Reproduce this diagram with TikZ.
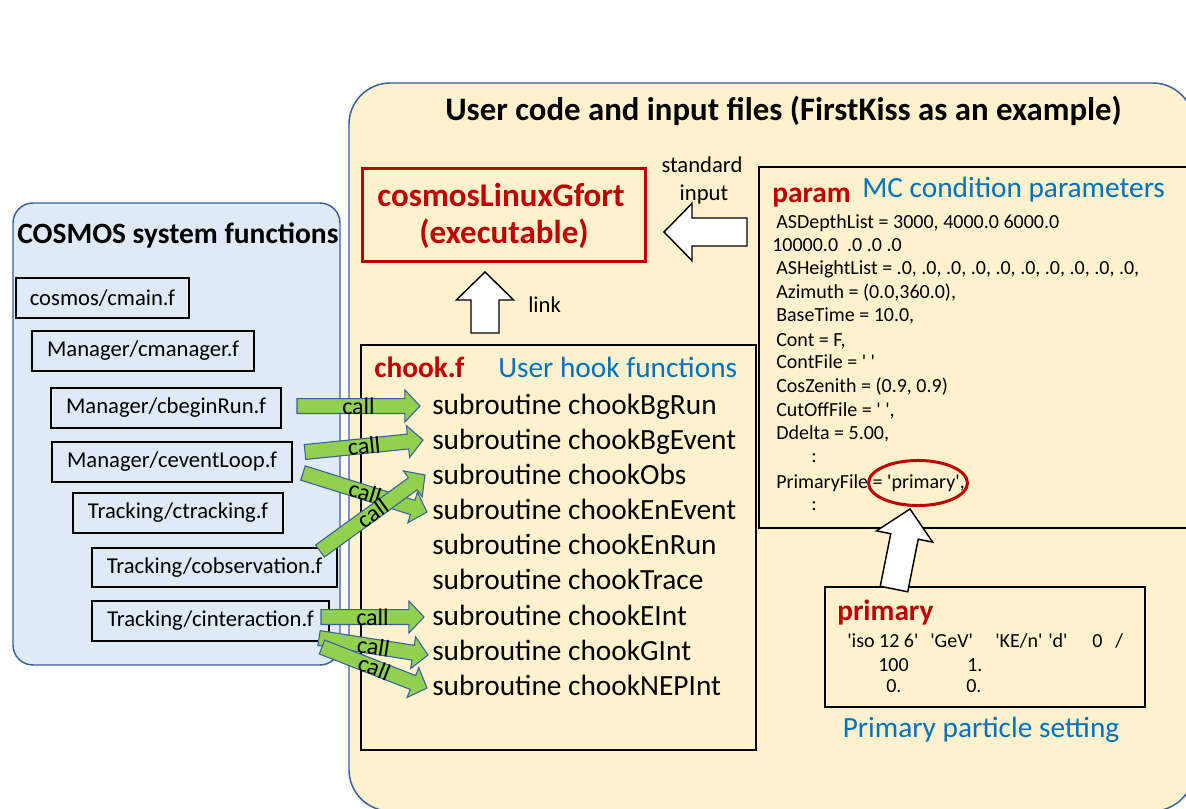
\documentclass[tikz,border=0pt]{standalone}
\usepackage{fontspec}
\setmainfont{Carlito}
\usetikzlibrary{calc,fit}
\definecolor{ybg}{HTML}{FFF2CC}
\definecolor{bbg}{HTML}{DEEBF7}
\definecolor{bord}{HTML}{3A5FA0}
\definecolor{dred}{HTML}{C00000}
\definecolor{tblue}{HTML}{0070C0}
\definecolor{agreen}{HTML}{92D050}
\newcommand\q{\textquotesingle}
% #1 style, #2 tail, #3 tip, #4 shaft half width, #5 head half width, #6 head length
\newcommand\blockarr[6]{%
  \coordinate (fahd) at ($(#3)!#6!(#2)$);
  \draw[#1] ($(#2)!#4!90:(#3)$) -- ($(fahd)!#4!-90:(#2)$) -- ($(fahd)!#5!-90:(#2)$)
    -- (#3) -- ($(fahd)!#5!90:(#2)$) -- ($(fahd)!#4!90:(#2)$) -- ($(#2)!#4!-90:(#3)$) -- cycle;
}
\newcommand\callarr[2]{%
  \blockarr{greenarr}{#1}{#2}{5.6pt}{12pt}{11.3pt}
  \path (#1) -- (#2) node[midway, sloped, callst] {call};
}
\newcommand\sysbox[4]{%
  \node[lbox, fit={#2 #3}] (#1) {};
  \node[inner sep=0, font=\fontsize{17}{20}\selectfont] (#1-t) at (#1.center) {#4};
}
\begin{document}
\begin{tikzpicture}[x=0.75pt,y=-0.75pt,
  lbox/.style={draw=black, line width=1.1pt, inner sep=0},
  tx/.style={inner sep=0, anchor=base west},
  f22/.style={font=\fontsize{22}{26}\selectfont},
  f22b/.style={font=\fontsize{22}{26}\selectfont\bfseries},
  f15/.style={font=\fontsize{15}{18}\selectfont},
  f17/.style={font=\fontsize{17}{20}\selectfont},
  greenarr/.style={fill=agreen, draw=bord, line width=0.8pt, line join=miter},
  whitearr/.style={fill=white, draw=black, line width=1.1pt, line join=miter},
  callst/.style={inner sep=0, font=\fontsize{18}{20}\selectfont},
]
\useasboundingbox (0,0) rectangle (1186,808);
\clip (0,0) rectangle (1186,808);

% containers
\node[fit={(349,83) (1194,811)}, inner sep=0, draw=bord, fill=ybg, line width=1.1pt, rounded corners=31pt] (user) {};
\node[fit={(13,203) (340,665)}, inner sep=0, draw=bord, fill=bbg, line width=1.1pt, rounded corners=15pt] (sys) {};

\node[tx, font=\fontsize{24.6}{28}\selectfont\bfseries] (utitle) at (445,120) {User code and input files (FirstKiss as an example)};
\node[tx, font=\fontsize{22.1}{26}\selectfont\bfseries] (stitle) at (17,243) {COSMOS system functions};

% system function boxes
\sysbox{cmain}{(16,278)}{(189,318)}{cosmos/cmain.f}
\sysbox{cmanager}{(32,331)}{(254,371)}{Manager/cmanager.f}
\sysbox{cbeginrun}{(51,388)}{(281,428)}{Manager/cbeginRun.f}
\sysbox{ceventloop}{(52,442)}{(292,482)}{Manager/ceventLoop.f}
\sysbox{ctracking}{(73,493)}{(283,533)}{Tracking/ctracking.f}
\sysbox{cobservation}{(92,548)}{(337,587)}{Tracking/cobservation.f}
\sysbox{cinteraction}{(92,601)}{(329,641)}{Tracking/cinteraction.f}

% executable
\node[fit={(362,168) (645,261)}, inner sep=0, draw=dred, line width=2.25pt] (exe) {};
\node[inner sep=0, anchor=base, text=dred, font=\fontsize{24.8}{28.5}\selectfont\bfseries] (exe1) at (501,206) {cosmosLinuxGfort};
\node[inner sep=0, anchor=base, text=dred, font=\fontsize{24.8}{28.5}\selectfont\bfseries] (exe2) at (504,243) {(executable)};
\node[inner sep=0, anchor=base, f17] (std) at (702,172) {standard};
\node[inner sep=0, anchor=base, f17] (inp) at (704,200) {input};
\node[tx, f17] (link) at (528,312) {link};

% chook box
\node[fit={(361,345) (756,750)}, inner sep=0, draw=black, line width=1.1pt] (chook) {};
\node[tx, f22b, text=dred] (chookt) at (374,377) {chook.f};
\node[tx, f22, text=tblue] (chookd) at (498,377) {User hook functions};
\node[tx, f22] (s1) at (432,414) {subroutine chookBgRun};
\node[tx, f22] (s2) at (432,449) {subroutine chookBgEvent};
\node[tx, f22] (s3) at (432,484) {subroutine chookObs};
\node[tx, f22] (s4) at (432,519) {subroutine chookEnEvent};
\node[tx, f22] (s5) at (432,554) {subroutine chookEnRun};
\node[tx, f22] (s6) at (432,589) {subroutine chookTrace};
\node[tx, f22] (s7) at (432,625) {subroutine chookEInt};
\node[tx, f22] (s8) at (432,660) {subroutine chookGInt};
\node[tx, f22] (s9) at (432,695) {subroutine chookNEPInt};

% param box
\node[fit={(759,167) (1200,528)}, inner sep=0, draw=black, line width=1.1pt] (param) {};
\node[tx, f22b, text=dred] (paramt) at (772,202) {param};
\node[tx, f22, text=tblue] (paramd) at (862,197) {MC condition parameters};
\node[tx, f15] at (776,228) {ASDepthList = 3000, 4000.0 6000.0};
\node[tx, f15] at (772,251) {10000.0\ \ .0 .0 .0};
\node[tx, f15] at (776,274) {ASHeightList = .0, .0, .0, .0, .0, .0, .0, .0, .0, .0,};
\node[tx, f15] at (776,298) {Azimuth = (0.0,360.0),};
\node[tx, f15] at (776,321) {BaseTime = 10.0,};
\node[tx, f15] at (776,346) {Cont = F,};
\node[tx, f15] at (776,368) {ContFile = \q\ \q};
\node[tx, f15] at (776,392) {CosZenith = (0.9, 0.9)};
\node[tx, f15] at (776,416) {CutOffFile = \q\ \q,};
\node[tx, f15] at (776,439) {Ddelta = 5.00,};
\node[tx, f15] at (811,462) {:};
\node[tx, f15] (pfile) at (776,488) {PrimaryFile = \q primary\q,};
\node[tx, f15] at (811,510) {:};
\draw[dred, line width=2.25pt] (918,483) ellipse [x radius=37.1pt, y radius=16.9pt];

% primary box
\node[fit={(825,587) (1145,707)}, inner sep=0, draw=black, line width=1.1pt] (prim) {};
\node[tx, f22b, text=dred] (primt) at (837,620) {primary};
\node[tx, f15] at (847,647) {\q iso 12 6\q};
\node[tx, f15] at (930,647) {\q GeV\q};
\node[tx, f15] at (995,647) {\q KE/n\q};
\node[tx, f15] at (1048,647) {\q d\q};
\node[tx, f15] at (1092,647) {0};
\node[tx, f15] at (1115,647) {/};
\node[tx, f15] at (878,671) {100};
\node[tx, f15] at (967,671) {1.};
\node[tx, f15] at (886,692) {0.};
\node[tx, f15] at (966,692) {0.};
\node[inner sep=0, anchor=base, f22, text=tblue] (primd) at (981,737) {Primary particle setting};

% white block arrows
\coordinate (stdS) at (747,232);
\coordinate (stdT) at (664,232);
\blockarr{whitearr}{stdS}{stdT}{10.5pt}{21.5pt}{21pt}
\coordinate (lnkS) at (485,333);
\coordinate (lnkT) at (485,272);
\blockarr{whitearr}{lnkS}{lnkT}{10.5pt}{21.5pt}{21pt}
\coordinate (prS) at (894,589);
\coordinate (prT) at (910,509);
\blockarr{whitearr}{prS}{prT}{10.5pt}{21.5pt}{21pt}

% green call arrows
\coordinate (g1s) at (297,406); \coordinate (g1e) at (420,406);
\coordinate (g2s) at (305,452); \coordinate (g2e) at (423,440);
\coordinate (g3s) at (303,473); \coordinate (g3e) at (427,512);
\coordinate (g4s) at (320,551); \coordinate (g4e) at (425,475);
\coordinate (g5s) at (321,617); \coordinate (g5e) at (424,617);
\coordinate (g6s) at (319,638); \coordinate (g6e) at (428,655);
\coordinate (g7s) at (322,647); \coordinate (g7e) at (427,688);
\callarr{g1s}{g1e}
\callarr{g2s}{g2e}
\callarr{g3s}{g3e}
\callarr{g4s}{g4e}
\callarr{g5s}{g5e}
\callarr{g6s}{g6e}
\callarr{g7s}{g7e}
\end{tikzpicture}
\end{document}
